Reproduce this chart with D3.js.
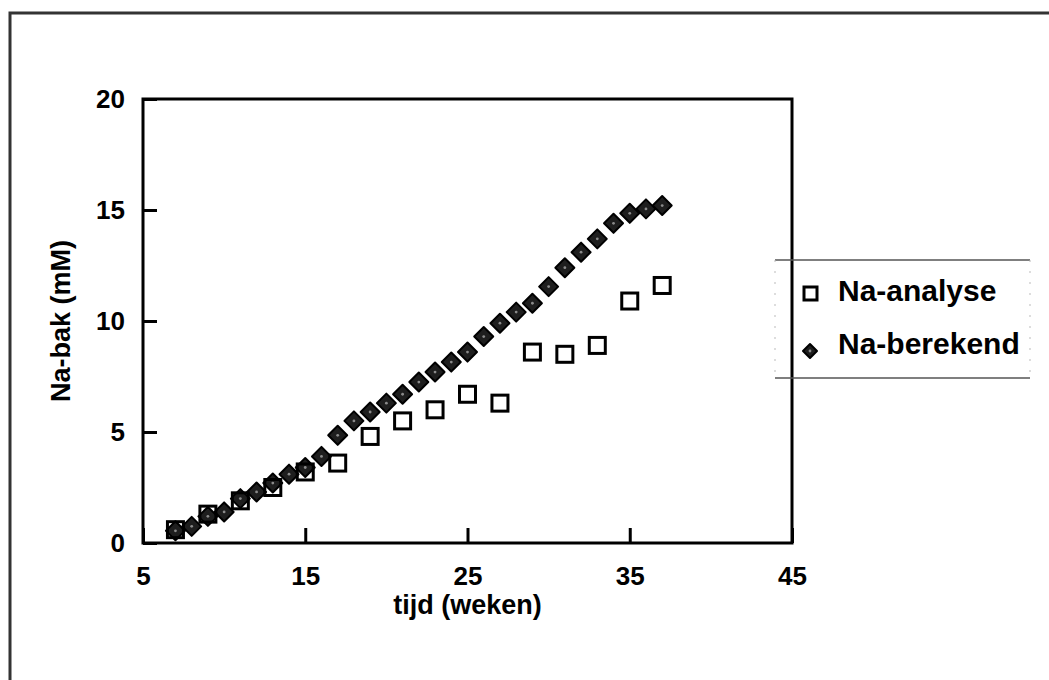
<!DOCTYPE html>
<html>
<head>
    <title></title>
    <style>
        body {
            margin: 0;
            background: #fff;
        }
        text {
            font-family: "Liberation Sans", Arial, sans-serif;
            fill: #000;
        }
        .tick text {
            font-size: 26px;
            font-weight: bold;
        }
        .tick line {
            stroke: #000;
            stroke-width: 3px;
        }
        .title {
            font-size: 27px;
            font-weight: bold;
        }
        .legend text {
            font-size: 30px;
            font-weight: bold;
        }
        .analyse {
            fill: none;
            stroke: #000;
            stroke-width: 3px;
        }
        .berekend {
            fill: #1e1e1e;
            stroke: #000;
            stroke-width: 2px;
        }
        .speck {
            fill: #8a8a8a;
        }
    </style>
</head>
<body>
<script src="https://d3js.org/d3.v7.min.js"></script>
<script>
    var width = 1049;
    var height = 680;

    // Na-analyse (gemeten)
    var weekAnalyse = [7, 9, 11, 13, 15, 17, 19, 21, 23, 25, 27, 29, 31, 33, 35, 37];
    var naAnalyse = [0.6, 1.3, 1.9, 2.5, 3.2, 3.6, 4.8, 5.5, 6.0, 6.7, 6.3, 8.6, 8.5, 8.9, 10.9, 11.6];

    // Na-berekend, wekelijks
    var weekBerekend = [7, 8, 9, 10, 11, 12, 13, 14, 15, 16, 17, 18, 19, 20, 21, 22,
        23, 24, 25, 26, 27, 28, 29, 30, 31, 32, 33, 34, 35, 36, 37];
    var naBerekend = [0.55, 0.75, 1.2, 1.4, 2.0, 2.3, 2.7, 3.1, 3.4, 3.9, 4.85, 5.5, 5.9, 6.3, 6.7, 7.25,
        7.7, 8.15, 8.6, 9.3, 9.9, 10.4, 10.8, 11.55, 12.4, 13.1, 13.7, 14.4, 14.85, 15.05, 15.2];

    var xTicks = [5, 15, 25, 35, 45];
    var yTicks = [0, 5, 10, 15, 20];
    var legendLabels = ["Na-analyse", "Na-berekend"];

    var plotLeft = 143, plotRight = 792, plotTop = 99, plotBottom = 543;

    var x = d3.scaleLinear().domain([5, 45]).range([plotLeft, plotRight]);
    var y = d3.scaleLinear().domain([0, 20]).range([plotBottom, plotTop]);

    var svg = d3.select("body").append("svg")
            .attr("width", width)
            .attr("height", height);

    // outer frame (left and top only)
    svg.append("path")
            .attr("d", "M10," + height + "V13H" + width)
            .attr("fill", "none")
            .attr("stroke", "#333")
            .attr("stroke-width", 3);

    var xAxis = svg.append("g")
            .attr("transform", "translate(0," + plotBottom + ")")
            .call(d3.axisBottom(x).tickValues(xTicks).tickSize(-15).tickPadding(24));
    xAxis.select(".domain").remove();

    var yAxis = svg.append("g")
            .attr("transform", "translate(" + plotLeft + ",0)")
            .call(d3.axisLeft(y).tickValues(yTicks).tickSize(-14).tickPadding(18));
    yAxis.select(".domain").remove();

    svg.append("rect")
            .attr("x", plotLeft)
            .attr("y", plotTop)
            .attr("width", plotRight - plotLeft)
            .attr("height", plotBottom - plotTop)
            .attr("fill", "none")
            .attr("stroke", "#000")
            .attr("stroke-width", 3);

    svg.append("text")
            .attr("class", "title")
            .attr("x", (plotLeft + plotRight) / 2)
            .attr("y", 614)
            .attr("text-anchor", "middle")
            .text("tijd (weken)");

    svg.append("text")
            .attr("class", "title")
            .attr("transform", "translate(70," + ((plotTop + plotBottom) / 2) + ")rotate(-90)")
            .attr("text-anchor", "middle")
            .text("Na-bak (mM)");

    function diamond(g, s) {
        g.append("path")
                .attr("class", "berekend")
                .attr("d", "M0," + (-s) + "L" + s + ",0L0," + s + "L" + (-s) + ",0Z")
                .attr("stroke-linejoin", "round");
        g.append("circle").attr("class", "speck").attr("r", 1.4);
    }

    var berekend = d3.zip(weekBerekend, naBerekend);
    var analyse = d3.zip(weekAnalyse, naAnalyse);

    svg.append("g").selectAll("g").data(berekend).enter().append("g")
            .attr("transform", function(d) {return "translate(" + x(d[0]) + "," + y(d[1]) + ")";})
            .each(function() {diamond(d3.select(this), 9.5);});

    svg.append("g").selectAll("rect").data(analyse).enter().append("rect")
            .attr("class", "analyse")
            .attr("x", function(d) {return x(d[0]) - 8;})
            .attr("y", function(d) {return y(d[1]) - 8;})
            .attr("width", 16)
            .attr("height", 16);

    // legend
    var legend = svg.append("g").attr("class", "legend");
    legend.append("path")
            .attr("d", "M775,260H1030M775,378H1030")
            .attr("stroke", "#555")
            .attr("stroke-width", 1.5);
    legend.append("path")
            .attr("d", "M775,260V378M1030,260V378")
            .attr("stroke", "#bbb")
            .attr("stroke-width", 1)
            .attr("stroke-dasharray", "2,9");

    legend.append("rect")
            .attr("class", "analyse")
            .attr("x", 804).attr("y", 287)
            .attr("width", 13).attr("height", 13);
    diamond(legend.append("g").attr("transform", "translate(810,351)"), 7);

    legend.selectAll(".label").data(legendLabels).enter().append("text")
            .attr("class", "label")
            .attr("x", 838)
            .attr("y", function(d, i) {return 301 + i * 53;})
            .text(function(d) {return d;});
</script>
</body>
</html>
